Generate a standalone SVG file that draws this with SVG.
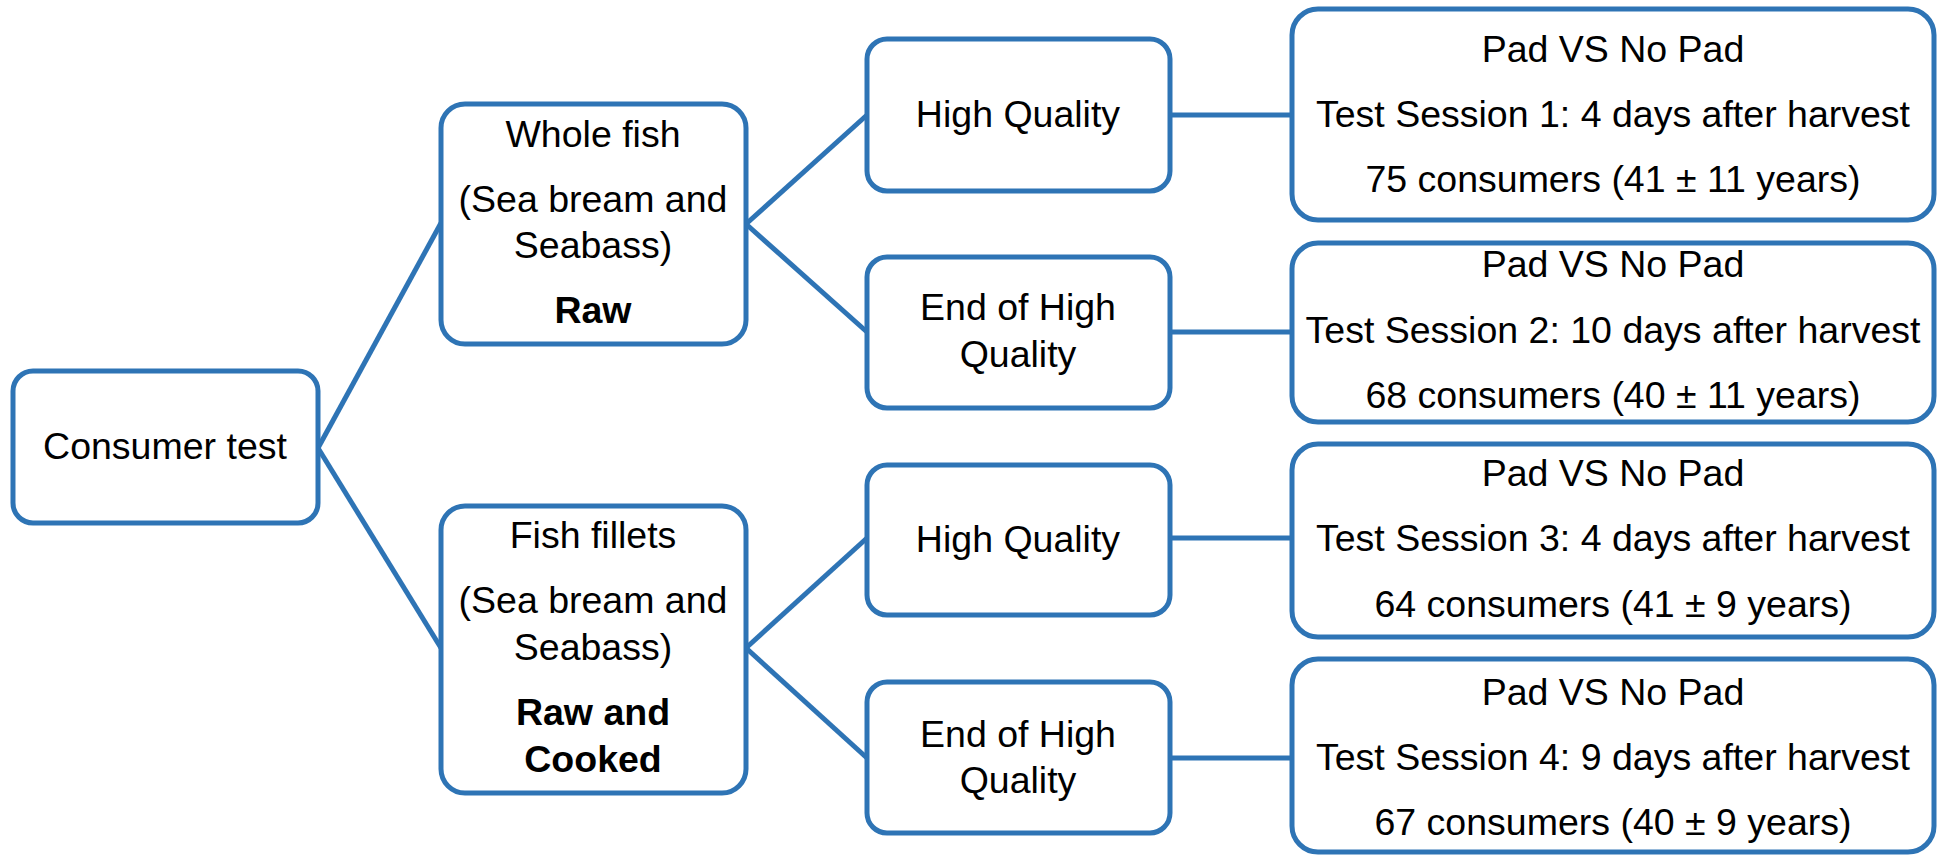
<svg xmlns="http://www.w3.org/2000/svg" width="1940" height="856" viewBox="0 0 1940 856">
<style>
.box{fill:#fff;stroke:#2E74B5;stroke-width:5}
.con line{stroke:#2E74B5;stroke-width:5}
text{font-family:"Liberation Sans",Arial,sans-serif;font-size:37.5px;fill:#000;text-anchor:middle}
.b{font-weight:bold}
</style>
<rect width="1940" height="856" fill="#fff"/>
<g class="con" id="connectors">
<line x1="318" y1="448" x2="441" y2="223"/>
<line x1="318" y1="448" x2="441" y2="648"/>
<line x1="746" y1="224" x2="867" y2="115"/>
<line x1="746" y1="224" x2="867" y2="332"/>
<line x1="746" y1="648" x2="867" y2="538"/>
<line x1="746" y1="648" x2="867" y2="758"/>
<line x1="1170" y1="115" x2="1292" y2="115"/>
<line x1="1170" y1="332" x2="1292" y2="332"/>
<line x1="1170" y1="538" x2="1292" y2="538"/>
<line x1="1170" y1="758" x2="1292" y2="758"/>
</g>
<g id="consumer-test">
<rect class="box" x="13" y="371" width="305" height="152" rx="20"/>
<text x="165" y="459">Consumer test</text>
</g>
<g id="whole-fish">
<rect class="box" x="441" y="104" width="305" height="240" rx="24"/>
<text x="593" y="147">Whole fish</text>
<text x="593" y="212">(Sea bream and</text>
<text x="593" y="258">Seabass)</text>
<text class="b" x="593" y="323">Raw</text>
</g>
<g id="fish-fillets">
<rect class="box" x="441" y="506" width="305" height="287" rx="24"/>
<text x="593" y="548">Fish fillets</text>
<text x="593" y="613">(Sea bream and</text>
<text x="593" y="660">Seabass)</text>
<text class="b" x="593" y="725">Raw and</text>
<text class="b" x="593" y="772">Cooked</text>
</g>
<g id="high-quality-1">
<rect class="box" x="867" y="39" width="303" height="152" rx="20"/>
<text x="1018" y="127">High Quality</text>
</g>
<g id="end-high-quality-1">
<rect class="box" x="867" y="257" width="303" height="151" rx="20"/>
<text x="1018" y="320">End of High</text>
<text x="1018" y="367">Quality</text>
</g>
<g id="high-quality-2">
<rect class="box" x="867" y="465" width="303" height="150" rx="20"/>
<text x="1018" y="552">High Quality</text>
</g>
<g id="end-high-quality-2">
<rect class="box" x="867" y="682" width="303" height="151" rx="20"/>
<text x="1018" y="747">End of High</text>
<text x="1018" y="793">Quality</text>
</g>
<g id="session-1">
<rect class="box" x="1292" y="9" width="642" height="211" rx="26"/>
<text x="1613" y="62">Pad VS No Pad</text>
<text x="1613" y="127">Test Session 1: 4 days after harvest</text>
<text x="1613" y="192">75 consumers (41 ± 11 years)</text>
</g>
<g id="session-2">
<rect class="box" x="1292" y="243" width="642" height="179" rx="26"/>
<text x="1613" y="277">Pad VS No Pad</text>
<text x="1613" y="343">Test Session 2: 10 days after harvest</text>
<text x="1613" y="408">68 consumers (40 ± 11 years)</text>
</g>
<g id="session-3">
<rect class="box" x="1292" y="444" width="642" height="193" rx="26"/>
<text x="1613" y="486">Pad VS No Pad</text>
<text x="1613" y="551">Test Session 3: 4 days after harvest</text>
<text x="1613" y="617">64 consumers (41 ± 9 years)</text>
</g>
<g id="session-4">
<rect class="box" x="1292" y="659" width="642" height="193" rx="26"/>
<text x="1613" y="705">Pad VS No Pad</text>
<text x="1613" y="770">Test Session 4: 9 days after harvest</text>
<text x="1613" y="835">67 consumers (40 ± 9 years)</text>
</g>
</svg>
